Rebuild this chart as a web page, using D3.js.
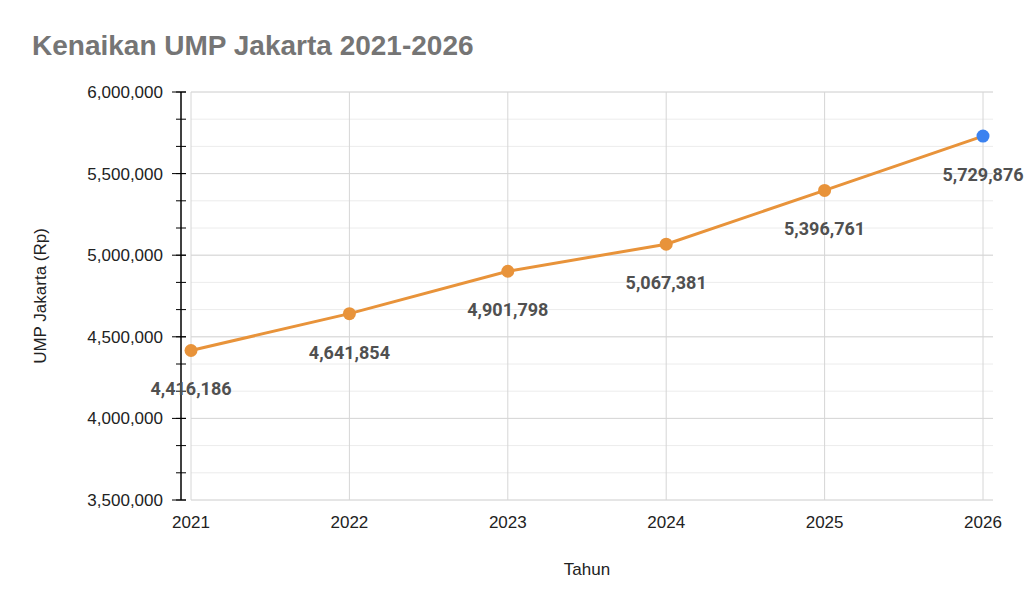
<!DOCTYPE html>
<html>
<head>
<meta charset="utf-8">
<style>
  body { margin: 0; background: #fff; }
  text { font-family: "Liberation Sans", Arial, sans-serif; }
  text.lbl { font-family: Roboto, Arial, sans-serif; }
</style>
</head>
<body>
<svg id="chart" width="1024" height="609"></svg>
<script src="https://cdn.jsdelivr.net/npm/d3@7"></script>
<script>
var years = [2021, 2022, 2023, 2024, 2025, 2026];
var ump = [4416186, 4641854, 4901798, 5067381, 5396761, 5729876];
var yTicks = [3500000, 4000000, 4500000, 5000000, 5500000, 6000000];

var svg = d3.select("#chart");
var x = d3.scaleLinear().domain([2021, 2026]).range([191, 983]);
var y = d3.scaleLinear().domain([3500000, 6000000]).range([500, 92]);
var fmt = d3.format(",");

svg.append("text").attr("x", 32).attr("y", 55)
  .attr("font-size", 28).attr("font-weight", "bold").attr("fill", "#757575")
  .text("Kenaikan UMP Jakarta 2021-2026");

// minor grid
var minor = d3.range(3500000, 6000001, 500000 / 3);
svg.append("g").selectAll("line").data(minor).join("line")
  .attr("x1", 191).attr("x2", 993)
  .attr("y1", d => y(d)).attr("y2", d => y(d))
  .attr("stroke", "#ececec");
svg.append("g").selectAll("line").data(yTicks).join("line")
  .attr("x1", 191).attr("x2", 993)
  .attr("y1", d => y(d)).attr("y2", d => y(d))
  .attr("stroke", "#d6d6d6");
svg.append("g").selectAll("line").data(years).join("line")
  .attr("x1", d => x(d)).attr("x2", d => x(d))
  .attr("y1", 92).attr("y2", 500)
  .attr("stroke", "#d6d6d6");

// y axis
var ax = svg.append("g");
ax.append("line").attr("x1", 181).attr("x2", 181).attr("y1", 92).attr("y2", 500)
  .attr("stroke", "#000").attr("stroke-width", 1.5);
ax.selectAll(".mn").data(minor).join("line")
  .attr("x1", 176).attr("x2", 186)
  .attr("y1", d => y(d)).attr("y2", d => y(d))
  .attr("stroke", "#000");
ax.selectAll(".mj").data(yTicks).join("line")
  .attr("x1", 172).attr("x2", 186)
  .attr("y1", d => y(d)).attr("y2", d => y(d))
  .attr("stroke", "#000");
ax.selectAll("text").data(yTicks).join("text")
  .attr("x", 163).attr("y", d => y(d) + 6)
  .attr("text-anchor", "end").attr("font-size", 17).attr("fill", "#222")
  .text(d => fmt(d));

svg.append("g").selectAll("text").data(years).join("text")
  .attr("x", d => x(d)).attr("y", 528)
  .attr("text-anchor", "middle").attr("font-size", 17).attr("fill", "#222")
  .text(d => d);

svg.append("text").attr("x", 587).attr("y", 575).attr("text-anchor", "middle")
  .attr("font-size", 17).attr("fill", "#222").text("Tahun");
svg.append("text").attr("transform", "translate(46,296) rotate(-90)")
  .attr("text-anchor", "middle").attr("font-size", 17).attr("fill", "#222")
  .text("UMP Jakarta (Rp)");

var data = years.map((d, i) => ({ year: d, v: ump[i] }));
svg.append("path").datum(data)
  .attr("d", d3.line().x(d => x(d.year)).y(d => y(d.v)))
  .attr("fill", "none").attr("stroke", "#e8933a").attr("stroke-width", 3);
svg.append("g").selectAll("circle").data(data).join("circle")
  .attr("cx", d => x(d.year)).attr("cy", d => y(d.v)).attr("r", 6.5)
  .attr("fill", (d, i) => i === data.length - 1 ? "#3b82f0" : "#e8933a");
svg.append("g").selectAll("text").data(data).join("text")
  .attr("class", "lbl")
  .attr("x", d => x(d.year)).attr("y", d => y(d.v) + 45)
  .attr("text-anchor", "middle").attr("font-size", 18).attr("font-weight", "bold")
  .attr("fill", "#505050")
  .text(d => fmt(d.v));
</script>
</body>
</html>
